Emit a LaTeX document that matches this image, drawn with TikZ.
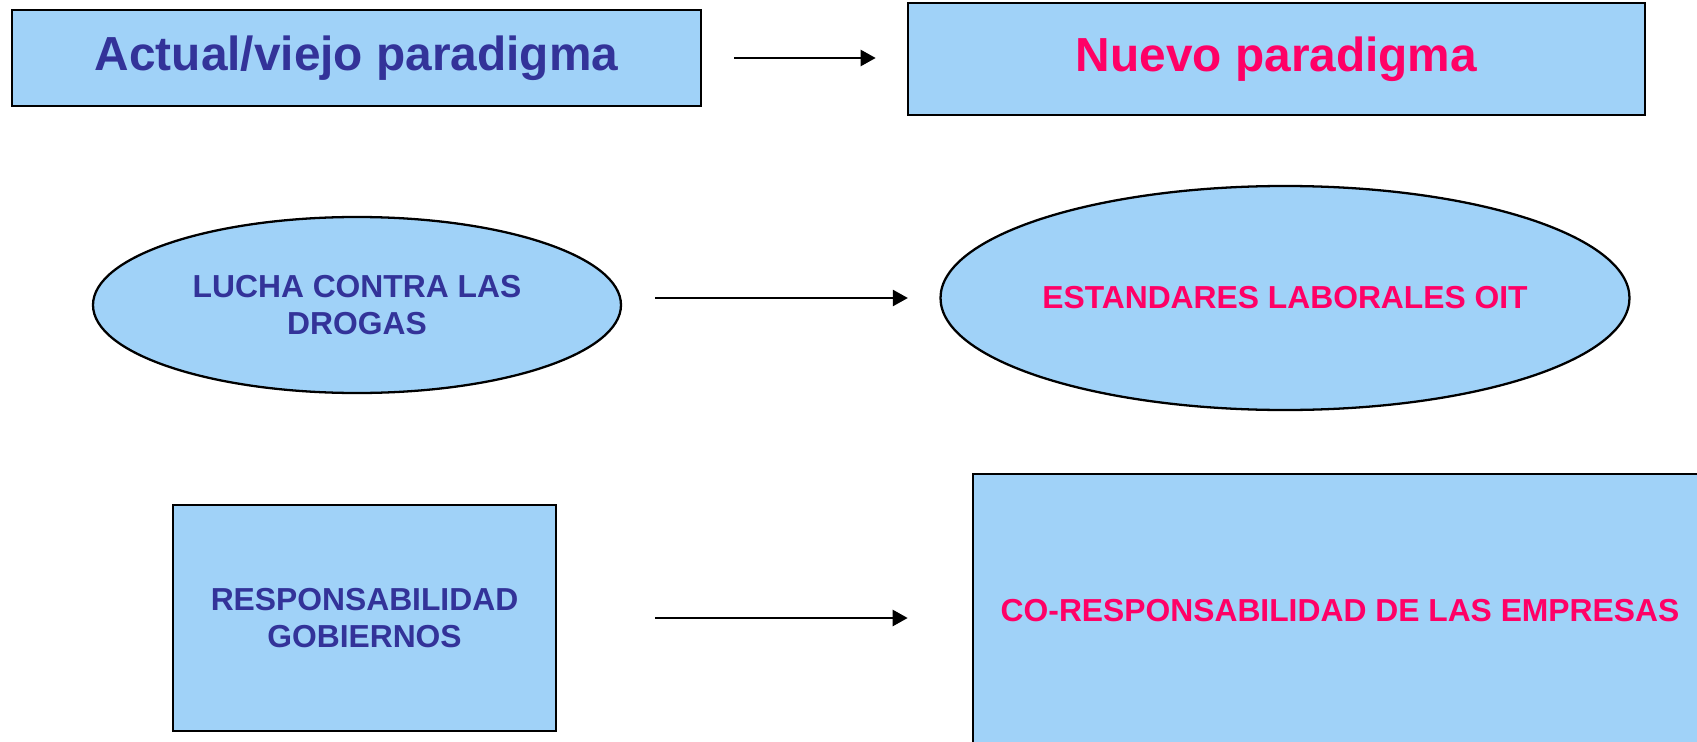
\documentclass[tikz,border=0pt]{standalone}
\usepackage{fontspec}
\setmainfont{Liberation Sans}
\usetikzlibrary{shapes.geometric, arrows.meta}

\definecolor{boxblue}{RGB}{160,210,248}
\definecolor{oldblue}{RGB}{51,51,153}
\definecolor{newpink}{RGB}{255,0,102}

\begin{document}
\begin{tikzpicture}[
  box/.style={draw, line width=1.5pt, fill=boxblue, inner sep=0pt},
  oval/.style={ellipse, draw, line width=1.3pt, fill=boxblue, inner sep=0pt},
  big/.style={font=\fontsize{27.2}{32}\selectfont\bfseries},
  small/.style={font=\fontsize{18.1}{20.9}\selectfont\bfseries, align=center},
  old/.style={text=oldblue},
  new/.style={text=newpink},
  arr/.style={-{Triangle[length=0.3cm,width=0.32cm]}, line width=1.4pt}
]
% Page frame, the last box runs past it
\clip (0,0) rectangle (33.94,-14.84);
% Headings
\node [box,big,old,minimum width=13.78cm,minimum height=1.92cm] (oldhead) at (7.13,-1.16) {Actual/viejo paradigma};
\node [box,big,new,minimum width=14.74cm,minimum height=2.24cm] (newhead) at (25.53,-1.18) {Nuevo paradigma};
% Middle row: ellipses
\node [oval,small,old,minimum width=10.56cm,minimum height=3.52cm] (drogas) at (7.14,-6.1) {LUCHA CONTRA LAS\\DROGAS};
\node [oval,small,new,minimum width=13.78cm,minimum height=4.48cm] (oit) at (25.7,-5.96) {ESTANDARES LABORALES OIT};
% Bottom row: boxes
\node [box,small,old,minimum width=7.66cm,minimum height=4.52cm] (gobiernos) at (7.29,-12.36) {RESPONSABILIDAD\\GOBIERNOS};
\node [box,small,new,minimum width=14.68cm,minimum height=5.48cm] (empresas) at (26.8,-12.22) {CO-RESPONSABILIDAD DE LAS EMPRESAS};
% Arrows from old to new
\draw [arr,shorten <=0.64cm,shorten >=0.62cm] (oldhead.east) -- (newhead.west |- oldhead.east);
\draw [arr,shorten <=0.66cm,shorten >=0.63cm] (drogas.east |- oit.west) -- (oit.west);
\draw [arr,shorten <=1.96cm,shorten >=1.28cm] (gobiernos.east) -- (empresas.west |- gobiernos.east);
\end{tikzpicture}
\end{document}
